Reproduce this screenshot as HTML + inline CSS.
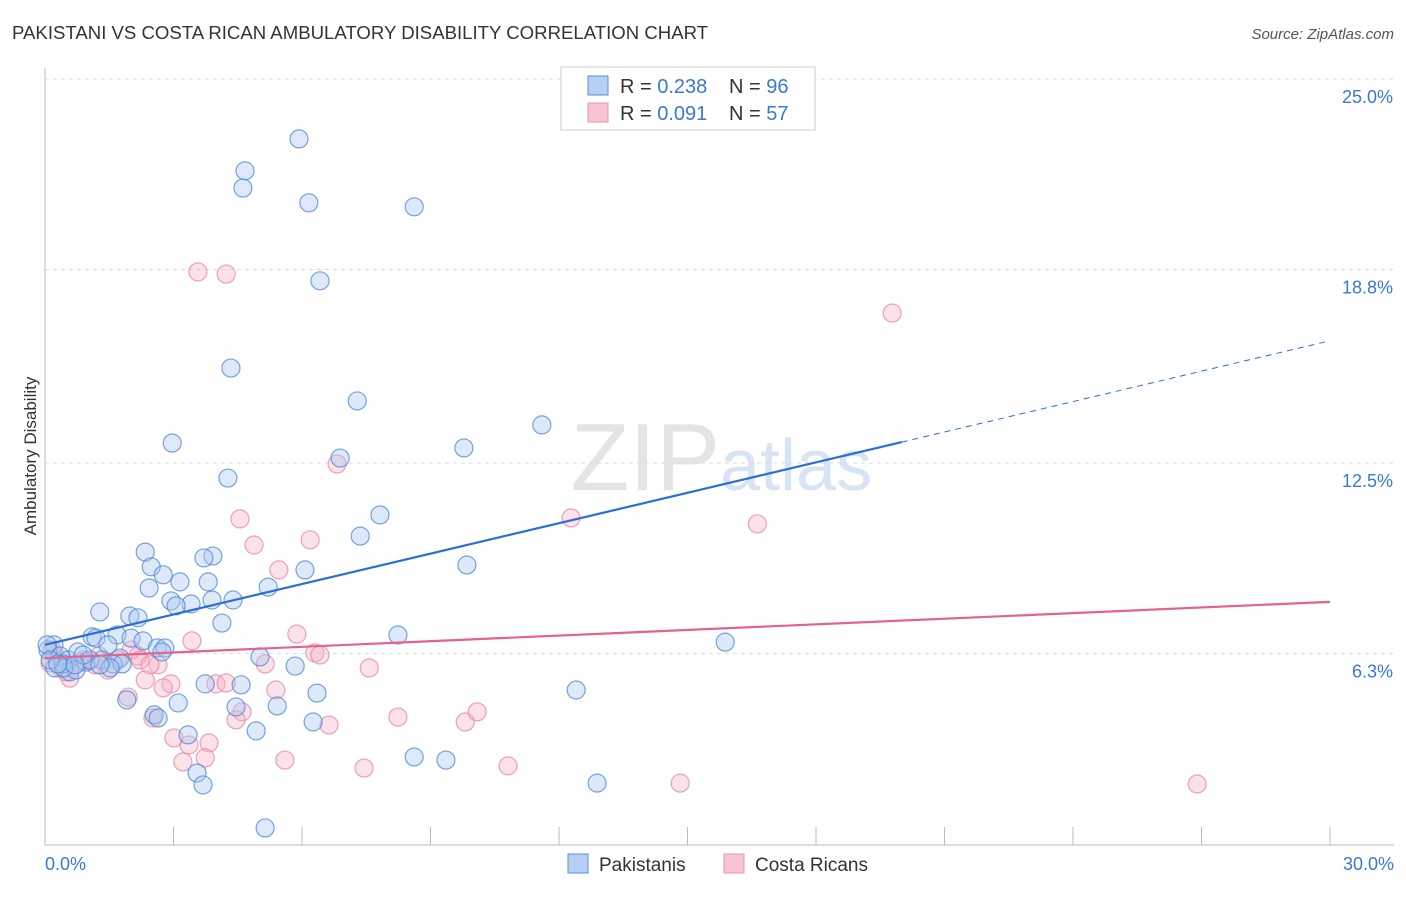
<!DOCTYPE html>
<html><head><meta charset="utf-8"><style>
body{margin:0;background:#fff;font-family:"Liberation Sans",sans-serif}
svg text{font-family:"Liberation Sans",sans-serif}
</style></head><body>
<svg id="c" width="1406" height="892" xmlns="http://www.w3.org/2000/svg">
<text x="12" y="39" font-size="18.6" fill="#333">PAKISTANI VS COSTA RICAN AMBULATORY DISABILITY CORRELATION CHART</text>
<text x="1394" y="39" font-size="15" fill="#555" text-anchor="end" font-style="italic">Source: ZipAtlas.com</text>
<text x="720" y="490" font-size="96" fill="#e4e4e4" text-anchor="end" font-family="Liberation Serif">ZIP</text>
<text x="720" y="490" font-size="72" fill="#d6e4f4">atlas</text>
<g id="grid"></g>
<g id="axes"></g>
<g id="pts"></g>
<g id="lines"></g>
<text x="36" y="456" font-size="17" fill="#333" text-anchor="middle" transform="rotate(-90 36 456)">Ambulatory Disability</text>
<g>
<rect x="561" y="67" width="254" height="63" fill="#fff" stroke="#ccc"/>
<rect x="588" y="76" width="20" height="19" fill="#b5d0f4" stroke="#5a8fd8"/>
<rect x="588" y="103" width="20" height="19" fill="#f8c4d2" stroke="#e895ae"/>
<text x="620" y="93" font-size="20" fill="#333">R = <tspan fill="#3a78d4">0.238</tspan></text>
<text x="729" y="93" font-size="20" fill="#333">N = <tspan fill="#3a78d4">96</tspan></text>
<text x="620" y="120" font-size="20" fill="#333">R = <tspan fill="#3a78d4">0.091</tspan></text>
<text x="729" y="120" font-size="20" fill="#333">N = <tspan fill="#3a78d4">57</tspan></text>
</g>
<g>
<rect x="568" y="854" width="20" height="19" fill="#b5d0f4" stroke="#5a8fd8"/>
<text x="599" y="871" font-size="19" fill="#333">Pakistanis</text>
<rect x="724" y="854" width="20" height="19" fill="#f8c4d2" stroke="#e895ae"/>
<text x="755" y="871" font-size="19" fill="#333">Costa Ricans</text>
</g>
</svg>
<script>
const blueX=[5.93,4.67,4.62,6.16,8.62,6.42,4.34,7.29,11.60,2.97,9.78,6.89,4.27,7.82,7.36,2.34,3.92,3.71,9.85,2.48,6.07,2.76,3.15,3.81,2.43,5.21,2.94,3.41,3.90,4.39,3.06,1.28,1.98,2.17,4.13,8.24,15.88,1.10,1.19,1.68,2.01,2.29,1.47,2.62,2.80,2.73,1.75,5.02,5.84,0.21,0.07,0.35,0.54,0.77,0.96,1.33,1.59,1.80,0.23,0.58,0.72,3.74,4.58,12.40,6.35,1.91,3.11,4.46,5.42,2.55,2.64,6.26,3.34,4.93,8.62,9.36,3.55,3.69,12.89,5.14,0.05,0.42,1.05,1.52,1.28,0.89,0.44,0.12,0.30,0.70];
const blueY=[23.05,22.01,21.45,20.97,20.84,18.43,15.59,14.52,13.74,13.15,12.99,12.66,12.01,10.81,10.12,9.60,9.47,9.41,9.18,9.12,9.02,8.86,8.63,8.63,8.43,8.46,8.01,7.91,8.04,8.04,7.85,7.65,7.52,7.46,7.29,6.90,6.67,6.84,6.80,6.90,6.80,6.71,6.58,6.48,6.48,6.35,6.15,6.19,5.89,6.58,6.41,6.22,6.09,6.35,6.02,6.09,5.96,5.96,5.83,5.70,5.76,5.31,5.28,5.11,5.01,4.79,4.69,4.56,4.59,4.30,4.20,4.07,3.65,3.78,2.93,2.83,2.41,2.02,2.08,0.62,6.58,5.96,6.09,5.83,5.93,6.25,5.83,6.09,5.96,5.93];
const pinkX=[3.57,4.23,19.78,6.82,12.28,16.63,4.55,4.88,6.19,5.46,3.43,5.88,6.30,6.42,7.57,5.14,2.17,2.64,2.01,1.26,1.70,0.91,0.37,0.58,2.34,2.94,2.76,3.99,4.23,5.39,1.94,4.60,2.52,4.46,6.63,8.24,9.81,10.09,3.01,3.36,3.83,3.22,3.74,5.60,7.45,10.81,14.83,26.90,0.23,0.12,0.49,0.82,1.17,2.22,1.47,0.16,2.45];
const pinkY=[18.72,18.65,17.38,12.47,10.71,10.52,10.68,9.83,10.00,9.02,6.71,6.93,6.32,6.25,5.83,5.96,6.22,5.93,6.41,6.22,6.09,6.09,5.83,5.50,5.44,5.31,5.18,5.31,5.34,5.11,4.88,4.40,4.20,4.14,3.97,4.23,4.07,4.40,3.55,3.32,3.39,2.77,2.90,2.83,2.57,2.64,2.08,2.05,6.25,5.99,5.70,6.02,5.93,6.09,5.76,6.41,5.93];
const yTicks=[25.0,18.8,12.5,6.3];
const yTickLabels=["25.0%","18.8%","12.5%","6.3%"];
const xTickLabels=["0.0%","30.0%"];
const blueTrend=[6.58,13.18,20.0];
const blueSlope=0.33;
const pinkTrend=[6.15,7.98];
const NS='http://www.w3.org/2000/svg';
const X0=45,X1=1330,Y25=79;
const sx=v=>X0+v/30*(X1-X0);
const sy=v=>Y25+(25-v)*30.72;
function mk(t,a,p){const e=document.createElementNS(NS,t);for(const k in a)e.setAttribute(k,a[k]);p.appendChild(e);return e;}
const grid=document.getElementById('grid'),axes=document.getElementById('axes'),pts=document.getElementById('pts'),lines=document.getElementById('lines');
yTicks.forEach((v,i)=>{
 const l=mk('line',{x1:45,x2:1394,y1:sy(v),y2:sy(v),stroke:'#ddd','stroke-dasharray':'4,4'},grid);
 
 
 const t=mk('text',{x:1393,y:sy(v)+24,'font-size':18,fill:'#3a78d4','text-anchor':'end'},axes);
 t.textContent=yTickLabels[i];
 
 
});
const ax=mk('line',{x1:45,x2:45,y1:68,y2:845,stroke:'#bbb'},axes);


const bx=mk('line',{x1:45,x2:1394,y1:845,y2:845,stroke:'#bbb'},axes);


for(let i=0;i<=10;i++){
 const t=mk('line',{x1:sx(i*3),x2:sx(i*3),y1:827,y2:845,stroke:'#bbb'},axes);
 
 
}
[[0,'start',45],[30,'end',1394]].forEach((d,i)=>{
 const t=mk('text',{x:d[2],y:870,'font-size':18,fill:'#3a78d4','text-anchor':d[1]},axes);
 t.textContent=xTickLabels[i];
 
 
});
function dots(xs,ys,fill,stroke,name){
 xs.forEach((x,i)=>{
  const c=mk('circle',{cx:sx(x),cy:sy(ys[i]),r:9,fill:fill,'fill-opacity':0.4,stroke:stroke,'stroke-opacity':0.75,'stroke-width':1.2},pts);
  
  
 });
}
dots(pinkX,pinkY,'#f6b3c6','#e884a3','costa-rican-point');
dots(blueX,blueY,'#a9c8f0','#4a86d8','pakistani-point');
const bEnd=blueTrend[2];
const b1=mk('line',{x1:sx(0),y1:sy(blueTrend[0]),x2:sx(bEnd),y2:sy(blueTrend[0]+blueSlope*bEnd),stroke:'#2a6fd6','stroke-width':2.2},lines);


const b2=mk('line',{x1:sx(bEnd),y1:sy(blueTrend[0]+blueSlope*bEnd),x2:sx(30),y2:sy(blueTrend[0]+blueSlope*30),stroke:'#2a6fd6','stroke-width':1,'stroke-dasharray':'6,5'},lines);


const p1=mk('line',{x1:sx(0),y1:sy(pinkTrend[0]),x2:sx(30),y2:sy(pinkTrend[1]),stroke:'#e5628d','stroke-width':2.2},lines);


</script>
</body></html>
